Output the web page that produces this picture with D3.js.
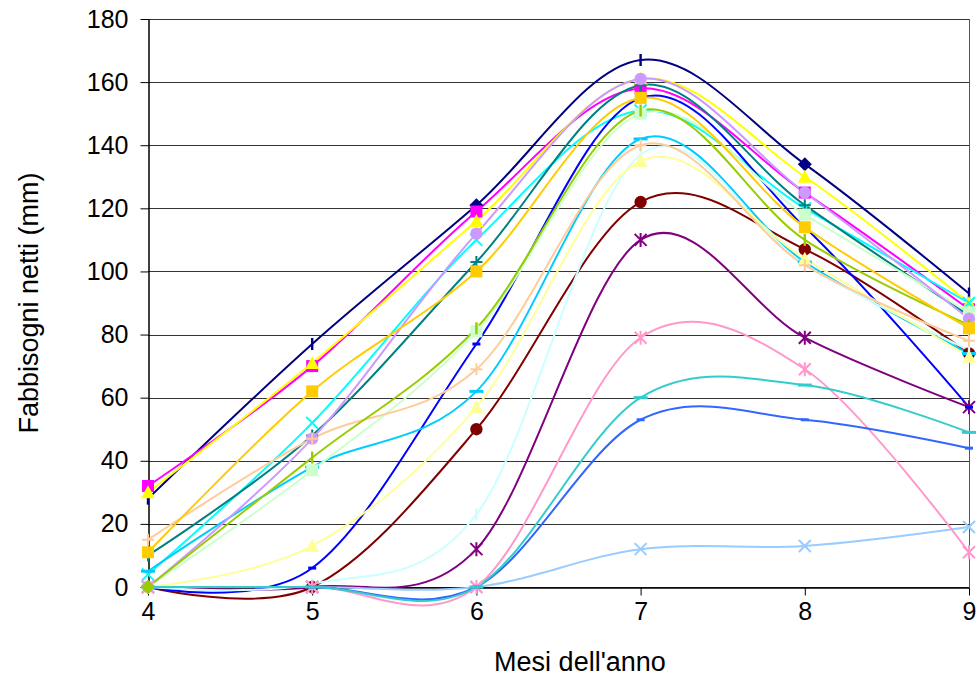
<!DOCTYPE html>
<html>
<head>
<meta charset="utf-8">
<script src="https://cdn.jsdelivr.net/npm/d3@7"></script>
<style>
  body { margin: 0; background: #fff; }
  svg text { font-family: "Liberation Sans", Arial, sans-serif; fill: #000; }
</style>
</head>
<body>
<div id="chart"></div>
<script>
// months on the x axis and y tick values
const months = [4, 5, 6, 7, 8, 9];
const yTicks = [0, 20, 40, 60, 80, 100, 120, 140, 160, 180];

// net requirements (mm), one array per series
const serie01 = [28, 77, 121, 167, 134, 93];
const serie02 = [32, 70, 119, 158, 125, 88];
const serie03 = [30, 71, 116, 161, 130, 90];
const serie04 = [4, 52, 110, 151, 120, 90];
const serie05 = [0, 0, 12, 110, 79, 57];
const serie06 = [0, 0, 50, 122, 107, 74];
const serie07 = [10, 48, 103, 159, 121, 86];
const serie08 = [0, 6, 77, 155, 114, 57];
const serie09 = [5, 38, 62, 142, 103, 74];
const serie10 = [0, 1, 23, 137, 102, 75];
const serie11 = [0, 37, 81, 150, 118, 87];
const serie12 = [0, 13, 57, 135, 104, 73];
const serie13 = [0, 0, 0, 12, 13, 19];
const serie14 = [0, 0, 0, 79, 69, 11];
const serie15 = [0, 47, 112, 161, 125, 85];
const serie16 = [15, 47, 69, 140, 102, 78];
const serie17 = [0, 0, 0, 53, 53, 44];
const serie18 = [0, 0, 0, 60, 64, 49];
const serie19 = [0, 41, 82, 151, 110, 83];
const serie20 = [11, 62, 100, 155, 114, 82];

const allSeries = [serie01, serie02, serie03, serie04, serie05, serie06, serie07,
  serie08, serie09, serie10, serie11, serie12, serie13, serie14, serie15, serie16,
  serie17, serie18, serie19, serie20];

// look of each series (excel-like palette and markers)
const styles = [
  { color: "#000080", marker: "vbar", diamondAt: [2, 4] },
  { color: "#FF00FF", marker: "square" },
  { color: "#FFFF00", marker: "triangle" },
  { color: "#00FFFF", marker: "x" },
  { color: "#800080", marker: "star" },
  { color: "#800000", marker: "circle" },
  { color: "#008080", marker: "plus" },
  { color: "#0000FF", marker: "dash" },
  { color: "#00CCFF", marker: "longbar" },
  { color: "#CCFFFF", marker: "vbar" },
  { color: "#CCFFCC", marker: "square" },
  { color: "#FFFF99", marker: "triangle" },
  { color: "#99CCFF", marker: "x" },
  { color: "#FF99CC", marker: "star" },
  { color: "#CC99FF", marker: "circle" },
  { color: "#FFCC99", marker: "plus" },
  { color: "#3366FF", marker: "dash" },
  { color: "#33CCCC", marker: "longbar" },
  { color: "#99CC00", marker: "vbar", diamondAt: [0] },
  { color: "#FFCC00", marker: "square" }
];

const width = 980;
const height = 677;
const margin = { top: 19, right: 11, bottom: 90, left: 148 };

const svg = d3.select("#chart")
  .append("svg")
  .attr("width", width)
  .attr("height", height);

const x = d3.scaleLinear()
  .domain([4, 9])
  .range([margin.left, width - margin.right]);

const y = d3.scaleLinear()
  .domain([0, 180])
  .range([height - margin.bottom, margin.top]);

// gridlines
svg.append("g")
  .selectAll("line")
  .data(yTicks)
  .join("line")
  .attr("x1", x(4))
  .attr("x2", x(9))
  .attr("y1", d => Math.round(y(d)) + 0.5)
  .attr("y2", d => Math.round(y(d)) + 0.5)
  .attr("stroke", "#333")
  .attr("stroke-width", 1);

// right border of the plot area
svg.append("line")
  .attr("x1", Math.round(x(9)) + 0.5)
  .attr("x2", Math.round(x(9)) + 0.5)
  .attr("y1", y(180))
  .attr("y2", y(0))
  .attr("stroke", "#555");

// axes
const yAxis = svg.append("g")
  .attr("transform", `translate(${Math.round(x(4)) + 0.5},0)`)
  .call(d3.axisLeft(y).tickValues(yTicks).tickSize(8).tickSizeOuter(0).tickPadding(12));

const xAxis = svg.append("g")
  .attr("transform", `translate(0,${Math.round(y(0)) + 0.5})`)
  .call(d3.axisBottom(x).tickValues(months).tickFormat(d3.format("d"))
    .tickSize(8).tickSizeOuter(0).tickPadding(3));

[yAxis, xAxis].forEach(g => {
  g.select(".domain").attr("stroke", "#000").attr("stroke-width", 1.5);
  g.selectAll(".tick line").attr("stroke", "#000");
  g.selectAll(".tick text").attr("font-size", 25).attr("font-family", "Liberation Sans, Arial, sans-serif");
});
xAxis.selectAll(".tick text").attr("dy", "0.85em");

// axis titles
svg.append("text")
  .attr("x", 580)
  .attr("y", 671)
  .attr("text-anchor", "middle")
  .attr("font-size", 27)
  .text("Mesi dell'anno");

svg.append("text")
  .attr("transform", `translate(38,${(y(0) + y(180)) / 2}) rotate(-90)`)
  .attr("text-anchor", "middle")
  .attr("font-size", 27)
  .text("Fabbisogni netti (mm)");

// smoothed lines (excel style smoothing ~ uniform catmull-rom)
const line = d3.line()
  .x((d, i) => x(months[i]))
  .y(d => y(d))
  .curve(d3.curveCardinal.tension(0));

svg.append("g")
  .selectAll("path")
  .data(allSeries)
  .join("path")
  .attr("fill", "none")
  .attr("stroke", (d, i) => styles[i].color)
  .attr("stroke-width", 2)
  .attr("d", line);

// marker shapes, centered on 0,0
function markerPath(type) {
  switch (type) {
    case "square": return "M-6,-6H6V6H-6Z";
    case "diamond": return "M0,-7L7,0L0,7L-7,0Z";
    case "triangle": return "M0,-7L7,6H-7Z";
    case "circle": return d3.symbol(d3.symbolCircle, 120)();
    case "x": return "M-6,-6L6,6M-6,6L6,-6";
    case "star": return "M-6,-6L6,6M-6,6L6,-6M0,-7V7";
    case "plus": return "M-6,0H6M0,-6V6";
    case "dash": return "M-4,-1.5H4V1.5H-4Z";
    case "longbar": return "M-7,-1.5H7V1.5H-7Z";
    case "vbar": return "M-1.2,-6H1.2V6H-1.2Z";
  }
}
const strokeOnly = new Set(["x", "star", "plus"]);

allSeries.forEach((vals, si) => {
  const st = styles[si];
  svg.append("g")
    .selectAll("path")
    .data(vals)
    .join("path")
    .attr("transform", (d, i) => `translate(${x(months[i])},${y(d)})`)
    .attr("d", (d, i) => markerPath(st.diamondAt && st.diamondAt.includes(i) ? "diamond" : st.marker))
    .attr("fill", strokeOnly.has(st.marker) ? "none" : st.color)
    .attr("stroke", strokeOnly.has(st.marker) ? st.color : "none")
    .attr("stroke-width", 2);
});
</script>
</body>
</html>
